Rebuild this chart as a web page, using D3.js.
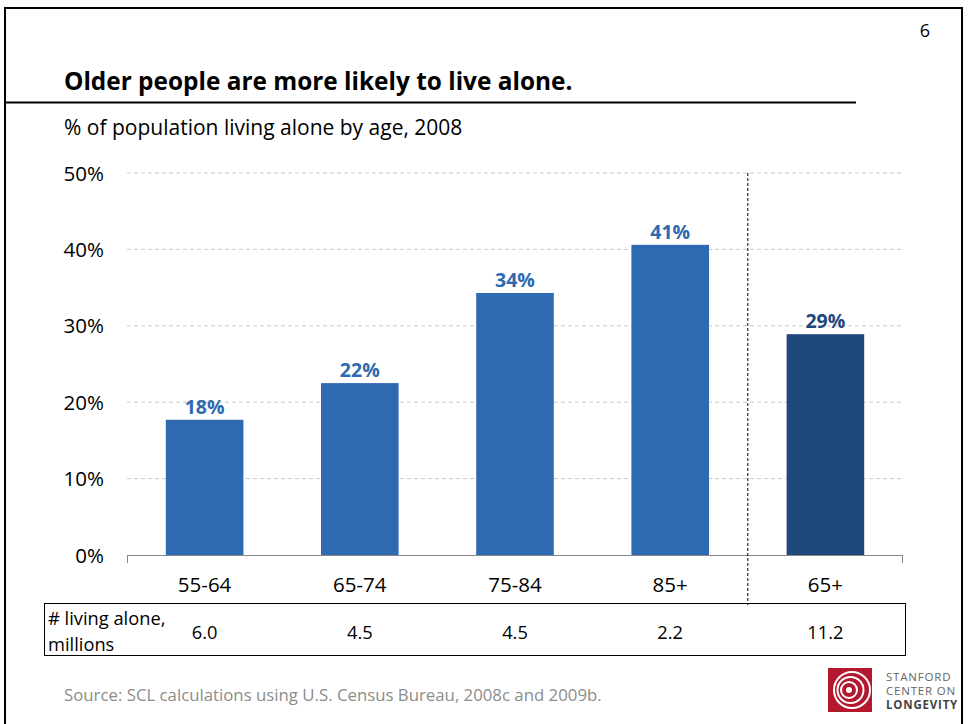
<!DOCTYPE html>
<html><head><meta charset="utf-8">
<script src="https://cdn.jsdelivr.net/npm/d3@7"></script>
<style>body{margin:0;background:#fff;}svg{display:block;font-family:"Open Sans",Lato,sans-serif;}</style>
</head><body><svg id="c" width="969" height="724"></svg>
<script>
const categories = ["55-64","65-74","75-84","85+","65+"];
const values = [17.7, 22.5, 34.3, 40.6, 28.9];
const valueLabels = ["18%","22%","34%","41%","29%"];
const millions = ["6.0","4.5","4.5","2.2","11.2"];
const yTicks = [0,10,20,30,40,50];

const svg = d3.select("#c");
svg.append("rect").attr("x",5).attr("y",8).attr("width",957).attr("height",730)
  .attr("fill","none").attr("stroke","#000").attr("stroke-width",2);
svg.append("text").attr("x",925).attr("y",37).attr("font-size",18).attr("text-anchor","middle").text("6");
svg.append("text").attr("x",64).attr("y",90).attr("font-size",24.4).attr("font-weight","bold").text("Older people are more likely to live alone.");
svg.append("line").attr("x1",5).attr("x2",856).attr("y1",102.5).attr("y2",102.5).attr("stroke","#000").attr("stroke-width",2);
svg.append("text").attr("x",64).attr("y",135).attr("font-size",21).text("% of population living alone by age, 2008");

const x = d3.scaleBand().domain(categories).range([127,903]).paddingInner(0.5).paddingOuter(0.25);
const y = d3.scaleLinear().domain([0,50]).range([555,173]);

svg.append("g").selectAll("line").data(yTicks.filter(d=>d>0)).join("line")
  .attr("x1",127).attr("x2",903).attr("y1",d=>y(d)).attr("y2",d=>y(d))
  .attr("stroke","#c8c8c8").attr("stroke-dasharray","4,3");

svg.append("g").selectAll("text").data(yTicks).join("text")
  .attr("x",104).attr("y",d=>y(d)+7.5).attr("text-anchor","end").attr("font-size",20.5)
  .text(d=>d+"%");

svg.append("g").selectAll("rect").data(values).join("rect")
  .attr("x",(d,i)=>x(categories[i])).attr("width",x.bandwidth())
  .attr("y",d=>y(d)).attr("height",d=>y(0)-y(d))
  .attr("fill",(d,i)=>i===4?"#1f497d":"#2e6ab1");
svg.append("g").selectAll("text").data(values).join("text")
  .attr("x",(d,i)=>x(categories[i])+x.bandwidth()/2).attr("y",d=>y(d)-6)
  .attr("text-anchor","middle").attr("font-size",19.5).attr("font-weight","bold")
  .attr("fill",(d,i)=>i===4?"#1f497d":"#2e6ab1").text((d,i)=>valueLabels[i]);

svg.append("line").attr("x1",127).attr("x2",903).attr("y1",555.5).attr("y2",555.5).attr("stroke","#888");
svg.append("line").attr("x1",127.5).attr("x2",127.5).attr("y1",555).attr("y2",563).attr("stroke","#888");
svg.append("line").attr("x1",902.5).attr("x2",902.5).attr("y1",555).attr("y2",563).attr("stroke","#888");
svg.append("g").selectAll("text").data(categories).join("text")
  .attr("x",d=>x(d)+x.bandwidth()/2).attr("y",592).attr("text-anchor","middle").attr("font-size",20.5).text(d=>d);

const divX = (x("85+")+x.bandwidth()/2 + x("65+")+x.bandwidth()/2)/2;
svg.append("line").attr("x1",divX).attr("x2",divX).attr("y1",173).attr("y2",605)
  .attr("stroke","#000").attr("stroke-dasharray","3,2").attr("stroke-width",1);

svg.append("rect").attr("x",44.5).attr("y",603.5).attr("width",861).attr("height",52)
  .attr("fill","none").attr("stroke","#000");
svg.append("text").attr("x",48).attr("y",625).attr("font-size",18.3).text("# living alone,");
svg.append("text").attr("x",48).attr("y",651).attr("font-size",18.3).text("millions");
svg.append("g").selectAll("text").data(millions).join("text")
  .attr("x",(d,i)=>x(categories[i])+x.bandwidth()/2).attr("y",639).attr("text-anchor","middle")
  .attr("font-size",18.3).text(d=>d);

svg.append("text").attr("x",64).attr("y",701).attr("font-size",16.8).attr("fill","#8c8c8c")
  .text("Source: SCL calculations using  U.S. Census Bureau, 2008c and 2009b.");

const lg = svg.append("g");
lg.append("rect").attr("x",828).attr("y",668).attr("width",44).attr("height",44).attr("fill","#b3182e");
[18,13,8].forEach((r,i)=>lg.append("circle").attr("cx",852-i*1.5).attr("cy",690).attr("r",r)
  .attr("fill","none").attr("stroke","#fff").attr("stroke-width",2));
lg.append("circle").attr("cx",849).attr("cy",690).attr("r",3).attr("fill","#fff");
[["STANFORD",681],["CENTER ON",695],["LONGEVITY",709]].forEach(([t,yy],i)=>
  lg.append("text").attr("x",886).attr("y",yy).attr("font-size",11.5).attr("letter-spacing",0.8)
   .attr("font-weight",i===2?"bold":"normal").attr("fill",i===2?"#444":"#666").text(t));
</script></body></html>
